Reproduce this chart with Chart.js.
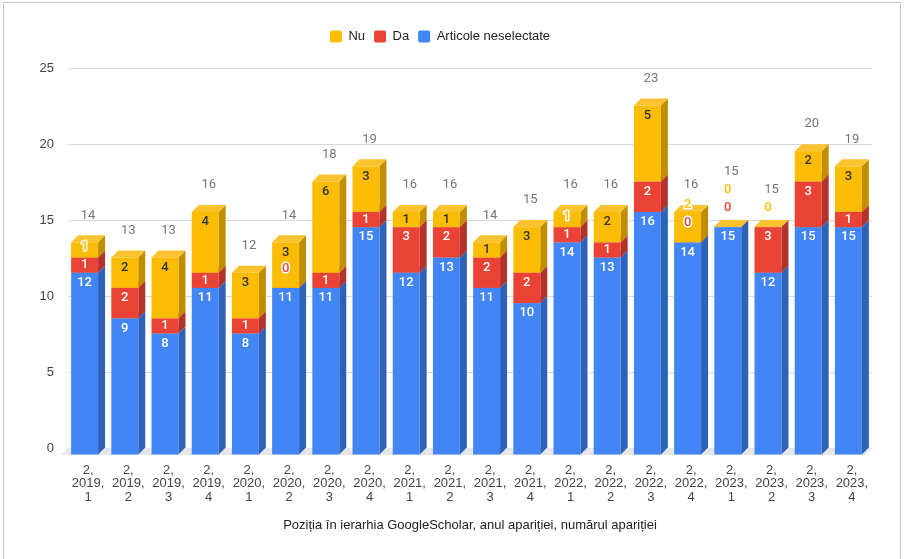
<!DOCTYPE html>
<html>
<head>
<meta charset="utf-8">
<script src="https://cdn.jsdelivr.net/npm/chart.js@4"></script>
<style>
body{margin:0;background:#fff;}
#wrap{position:relative;width:905px;height:559px;}
#frame{position:absolute;left:3px;top:2px;width:896px;height:600px;border:1px solid #c8c8c8;border-bottom:none;pointer-events:none;}
</style>
</head>
<body>
<div id="wrap"><canvas id="chart1" width="905" height="559"></canvas><div id="frame"></div></div>
<script>
// date
const etichete = [
  ['2,','2019,','1'],['2,','2019,','2'],['2,','2019,','3'],['2,','2019,','4'],
  ['2,','2020,','1'],['2,','2020,','2'],['2,','2020,','3'],['2,','2020,','4'],
  ['2,','2021,','1'],['2,','2021,','2'],['2,','2021,','3'],['2,','2021,','4'],
  ['2,','2022,','1'],['2,','2022,','2'],['2,','2022,','3'],['2,','2022,','4'],
  ['2,','2023,','1'],['2,','2023,','2'],['2,','2023,','3'],['2,','2023,','4']
];
const articoleNeselectate = [12,9,8,11,8,11,11,15,12,13,11,10,14,13,16,14,15,12,15,15];
const da = [1,2,1,1,1,0,1,1,3,2,2,2,1,1,2,0,0,3,3,1];
const nu = [1,2,4,4,3,3,6,3,1,1,1,3,1,2,5,2,0,0,2,3];
const valoriAxaY = [0,5,10,15,20,25];

const culori = ['#4285F4','#EA4335','#FBBC04'];
const laturi = ['#2E62B8','#B3332B','#C08E00'];
const capace = ['#6C9EF7','#EE6256','#F9C22E'];
const textInterior = ['#ffffff','#ffffff','#333333'];
const FONT = '"Liberation Sans", Arial, sans-serif';
const D = 7; // adancimea 3D

const serii = [
  {label:'Articole neselectate', data:articoleNeselectate},
  {label:'Da', data:da},
  {label:'Nu', data:nu}
];

let bar3d = {
  id:'bar3d',
  beforeDatasetsDraw(chart){
    const ctx = chart.ctx;
    const a = chart.chartArea;
    ctx.save();
    // podeaua
    ctx.fillStyle = '#e6e6e6';
    ctx.beginPath();
    ctx.moveTo(a.left, a.bottom);
    ctx.lineTo(a.right, a.bottom);
    ctx.lineTo(a.right - D, a.bottom + D);
    ctx.lineTo(a.left - D, a.bottom + D);
    ctx.closePath();
    ctx.fill();

    const metas = chart.data.datasets.map((d,k)=>chart.getDatasetMeta(k));
    etichete.forEach((e,i)=>{
      // bare
      metas.forEach((m,k)=>{
        const el = m.data[i];
        const p = el.getProps(['x','y','base','width'], true);
        const fl = p.x - p.width/2 - D/2, fr = fl + p.width;
        const ft = p.y + D, fb = p.base + D;
        ctx.fillStyle = laturi[k];
        ctx.beginPath();
        ctx.moveTo(fr, ft); ctx.lineTo(fr + D, ft - D); ctx.lineTo(fr + D, fb - D); ctx.lineTo(fr, fb);
        ctx.closePath(); ctx.fill();
        ctx.fillStyle = capace[k];
        ctx.beginPath();
        ctx.moveTo(fl, ft); ctx.lineTo(fr, ft); ctx.lineTo(fr + D, ft - D); ctx.lineTo(fl + D, ft - D);
        ctx.closePath(); ctx.fill();
        ctx.fillStyle = culori[k];
        ctx.fillRect(fl, ft, p.width, fb - ft);
      });
      // etichete
      ctx.textAlign = 'center';
      ctx.textBaseline = 'middle';
      ctx.font = '500 13px Roboto, sans-serif';
      ctx.lineJoin = 'round';
      let ultim = Infinity, cx = 0, sus = 0;
      metas.forEach((m,k)=>{
        const v = chart.data.datasets[k].data[i];
        const p = m.data[i].getProps(['x','y','base','width'], true);
        cx = p.x - D/2; sus = p.y;
        const ft = p.y + D, fb = p.base + D;
        let yy;
        if (v > 0) yy = (fb - ft) < 20 ? (ft + fb)/2 : ft + 10;
        else yy = fb - 19.5;
        let mutat = v === 0;
        if (ultim - yy < 16) { yy = ultim - 18; mutat = true; }
        if (mutat) {
          ctx.strokeStyle = '#ffffff'; ctx.lineWidth = 3;
          ctx.strokeText(String(v), cx, yy);
          ctx.fillStyle = culori[k];
        } else ctx.fillStyle = textInterior[k];
        ctx.fillText(String(v), cx, yy);
        ultim = yy;
      });
      const total = articoleNeselectate[i] + da[i] + nu[i];
      let ty = sus - 20;
      if (ultim - ty < 18) ty = ultim - 18;
      ctx.font = '13px Roboto, sans-serif';
      ctx.fillStyle = '#757575';
      ctx.fillText(String(total), cx + D/2, ty);
    });
    ctx.restore();
    return false;
  }
};

const chart = new Chart(document.getElementById('chart1'), {
  type:'bar',
  data:{
    labels: etichete,
    datasets: serii.map((s,k)=>({label:s.label, data:s.data, backgroundColor:culori[k], borderWidth:0}))
  },
  options:{
    responsive:false,
    animation:false,
    layout:{padding:{left:8, right:33, top:21, bottom:0}},
    datasets:{bar:{barPercentage:0.67, categoryPercentage:1}},
    plugins:{
      legend:{
        reverse:true,
        labels:{boxWidth:12, boxHeight:12, useBorderRadius:true, borderRadius:2, padding:9,
          color:'#222', font:{family:FONT, size:13}}
      },
      // spatiu gol intre legenda si grafic
      subtitle:{display:true, text:' ', weight:500, font:{size:1}, padding:{top:0, bottom:14}},
      tooltip:{enabled:false}
    },
    scales:{
      x:{
        stacked:true,
        grid:{display:false},
        border:{display:false},
        ticks:{color:'#444', font:{family:FONT, size:13, lineHeight:1.02}, maxRotation:0, autoSkip:false, padding:8},
        title:{display:true, text:'Poziția în ierarhia GoogleScholar, anul apariției, numărul apariției',
          color:'#222', font:{family:FONT, size:13}, padding:{top:4, bottom:26}},
        afterFit(s){ s.height = 111; }
      },
      y:{
        stacked:true, min:0, max:25,
        afterBuildTicks(s){ s.ticks = valoriAxaY.map(v=>({value:v})); },
        ticks:{color:'#444', font:{family:FONT, size:13}, padding:14},
        grid:{color:'#d9d9d9', drawTicks:false},
        border:{display:false},
        afterFit(s){ s.width = 60; }
      }
    }
  },
  plugins:[bar3d]
});
</script>
</body>
</html>
